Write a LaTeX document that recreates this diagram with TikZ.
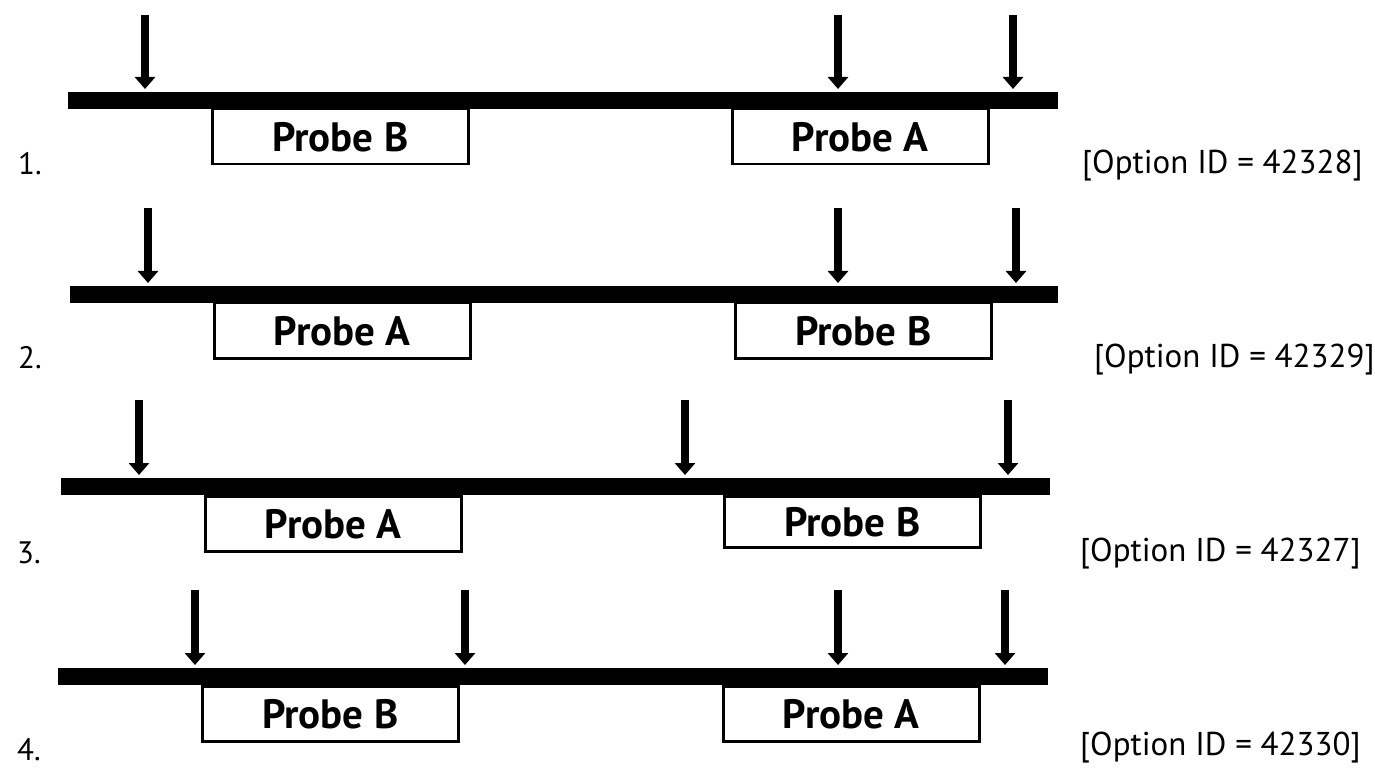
\documentclass[tikz,border=0pt]{standalone}
\usepackage{fontspec}
\setmainfont{PT Sans}
\usetikzlibrary{arrows.meta}
\begin{document}
\begin{tikzpicture}[x=1pt,y=-1pt,
  bar/.style={fill=black, draw=none, inner sep=0pt, minimum height=17pt, anchor=north west},
  probe/.style={draw=black, line width=2.5pt, fill=white, minimum width=256pt, minimum height=55pt, anchor=north west, inner sep=0pt, font=\fontsize{41}{43}\selectfont\bfseries},
  cut/.style={-{Triangle[width=20pt,length=12pt]}, line width=8pt, shorten >=3pt},
  num/.style={font=\fontsize{31}{33}\selectfont, anchor=west, inner sep=0pt},
  optid/.style={font=\fontsize{33}{35}\selectfont, anchor=west, inner sep=0pt}]
\useasboundingbox (0,0) rectangle (1375,783);
% Row 1
\node[probe] (b1l) at (211,108) {Probe B};
\node[probe] (b1r) at (731,108) {Probe A};
\node[bar, minimum width=990pt] (bar1) at (68,92) {};
\coordinate (a1a) at (145,15);
\coordinate (a1b) at (838,15);
\coordinate (a1c) at (1013,15);
\draw[cut] (a1a) -- (a1a |- bar1.north);
\draw[cut] (a1b) -- (a1b |- bar1.north);
\draw[cut] (a1c) -- (a1c |- bar1.north);
\node[num] (n1) at (18,164) {1.};
\node[optid] (o1) at (1082,166) {[Option ID = 42328]};
% Row 2
\node[probe] (b2l) at (213,302) {Probe A};
\node[probe] (b2r) at (734,302) {Probe B};
\node[bar, minimum width=988pt] (bar2) at (70,286) {};
\coordinate (a2a) at (148,208);
\coordinate (a2b) at (838,208);
\coordinate (a2c) at (1016,208);
\draw[cut] (a2a) -- (a2a |- bar2.north);
\draw[cut] (a2b) -- (a2b |- bar2.north);
\draw[cut] (a2c) -- (a2c |- bar2.north);
\node[num] (n2) at (18,358) {2.};
\node[optid] (o2) at (1094,360) {[Option ID = 42329]};
% Row 3
\node[probe] (b3l) at (204,495) {Probe A};
\node[probe, minimum height=51pt] (b3r) at (723,495) {Probe B};
\node[bar, minimum width=989pt] (bar3) at (61,478) {};
\coordinate (a3a) at (139,400);
\coordinate (a3b) at (685,400);
\coordinate (a3c) at (1008,400);
\draw[cut] (a3a) -- (a3a |- bar3.north);
\draw[cut] (a3b) -- (a3b |- bar3.north);
\draw[cut] (a3c) -- (a3c |- bar3.north);
\node[num] (n3) at (17,553) {3.};
\node[optid] (o3) at (1080,554) {[Option ID = 42327]};
% Row 4
\node[probe] (b4l) at (201,685) {Probe B};
\node[probe] (b4r) at (722,685) {Probe A};
\node[bar, minimum width=990pt] (bar4) at (58,668) {};
\coordinate (a4a) at (195,590);
\coordinate (a4b) at (465,590);
\coordinate (a4c) at (838,590);
\coordinate (a4d) at (1005,590);
\draw[cut] (a4a) -- (a4a |- bar4.north);
\draw[cut] (a4b) -- (a4b |- bar4.north);
\draw[cut] (a4c) -- (a4c |- bar4.north);
\draw[cut] (a4d) -- (a4d |- bar4.north);
\node[num] (n4) at (17,750) {4.};
\node[optid] (o4) at (1080,748) {[Option ID = 42330]};
\end{tikzpicture}
\end{document}
